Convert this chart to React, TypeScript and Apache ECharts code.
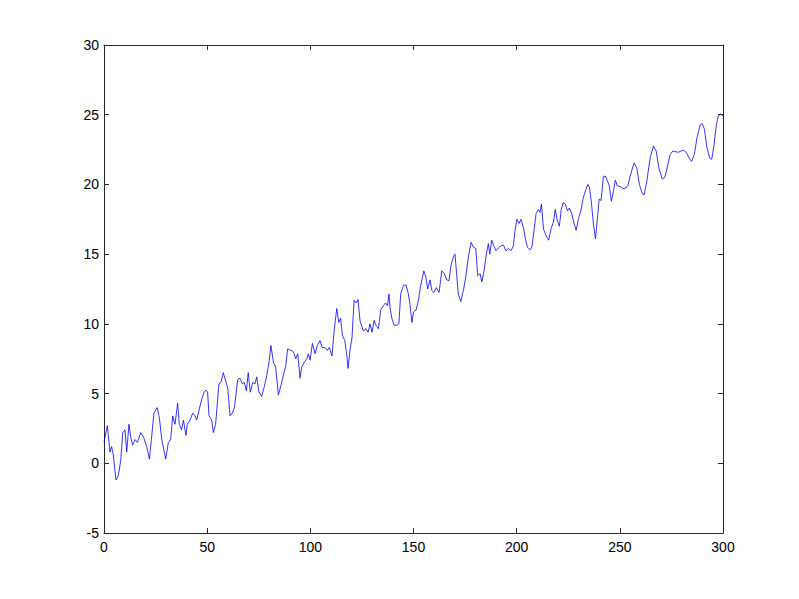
import React, { useEffect, useRef } from "react";
import * as echarts from "echarts";

const xValues = [
  0, 1.6, 2.9, 3.7, 4.5, 5.8, 6.9, 8.1, 9.1, 10.2, 11, 12.1, 12.9, 13.9, 15, 16.2, 17.8, 19.1, 20.7, 22,
  23.1, 24.2, 25.8, 26.8, 28, 29.9, 31.2, 32.3, 33.3, 34.4, 35.7, 36.5, 37.6, 38.5, 39.7, 40.4, 41.7, 43, 44.1, 44.9,
  46.2, 47.4, 48.5, 49.4, 50.2, 50.9, 52.2, 53, 54.1, 55.7, 56.7, 57.8, 59, 60, 61.1, 62.2, 63.2, 64.8, 65.9, 67,
  68, 69, 69.9, 70.9, 72.1, 73.2, 74, 75.1, 76.4, 77.7, 78.9, 80.1, 80.9, 82.1, 83.2, 84.5, 85.8, 86.9, 88.1, 89,
  90.6, 91.8, 92.9, 93.9, 95, 95.8, 97.1, 98.3, 99, 99.9, 101, 102.3, 103.4, 104.7, 105.8, 107.1, 108.2, 109.2, 110.5, 111.6,
  112.8, 113.8, 114.7, 115.5, 116.7, 117.6, 118.3, 119.2, 120.2, 121.2, 122.2, 123.1, 124.1, 125.7, 127, 128, 128.9, 129.9, 130.9, 131.8,
  133, 134.1, 135.4, 136.4, 137.4, 138.1, 138.6, 139.5, 140.6, 141.9, 142.9, 143.8, 145.1, 146.4, 147.5, 148.3, 149.2, 150, 151.3, 152.4,
  153.3, 155, 156, 156.9, 158, 158.9, 159.8, 161.1, 162.4, 163.7, 165, 166.1, 167.2, 168.2, 169.3, 170.1, 170.9, 171.7, 172.9, 174.2,
  175.3, 176.6, 177.9, 179, 180.2, 181.1, 182.3, 183.1, 184.2, 185.3, 186.3, 187, 187.9, 188.9, 190, 191.2, 192.5, 193.6, 194.7, 196,
  197.3, 198.4, 199.2, 200.1, 201.2, 202.1, 203.3, 204.1, 205.2, 206.5, 207.5, 208.4, 209.4, 210.5, 211.3, 212, 213, 214.3, 215.5, 216.8,
  217.8, 218.7, 219.7, 220.7, 221.6, 222.6, 223.6, 224.6, 225.5, 226.5, 227.5, 228.8, 229.9, 231.1, 232.3, 233.6, 234.5, 235.3, 236.3, 237.2,
  238.2, 239.1, 240, 240.9, 242, 243, 244, 244.9, 245.9, 246.9, 247.8, 248.8, 250.1, 251.5, 253, 254, 255, 256.9, 258.2, 259.5,
  260.8, 261.8, 263.1, 264.7, 266.3, 267.6, 268.9, 270.5, 271.8, 273.1, 274.4, 275.7, 277, 278.3, 279.6, 280.9, 282.2, 283.5, 284.8, 286.1,
  287.4, 289, 290, 291, 292.2, 293.5, 294.5, 295.5, 296.8, 297.7, 298.8, 300,
];

const yValues = [
  1.5, 2.7, 0.8, 1.2, 0.6, -1.2, -0.9, 0.2, 2.2, 2.4, 0.8, 2.8, 1.9, 1.3, 1.7, 1.5, 2.2, 1.9, 1.2, 0.3,
  1.9, 3.6, 4.0, 3.3, 1.7, 0.3, 1.5, 1.7, 3.4, 2.8, 4.3, 2.8, 2.4, 3.1, 2.0, 2.8, 3.1, 3.6, 3.4, 3.1,
  3.9, 4.6, 5.1, 5.25, 5.1, 3.4, 3.1, 2.2, 2.8, 5.7, 5.8, 6.5, 5.9, 5.35, 3.4, 3.6, 4.0, 6.0, 6.1, 5.7,
  5.8, 5.2, 6.5, 5.1, 5.8, 5.7, 6.2, 5.1, 4.8, 5.5, 6.3, 7.4, 8.45, 7.25, 6.9, 4.9, 5.6, 6.3, 7.0, 8.2,
  8.1, 8.0, 7.5, 7.85, 6.1, 6.9, 7.25, 7.5, 7.85, 7.4, 8.6, 7.85, 8.45, 8.8, 8.3, 8.3, 8.1, 8.3, 7.7, 9.6,
  11.1, 10.1, 10.4, 9.2, 8.8, 7.85, 6.8, 8.1, 9.0, 11.7, 11.5, 11.75, 10.2, 9.5, 9.65, 9.4, 10.0, 9.4, 10.25, 9.9,
  9.65, 11.0, 11.3, 11.5, 11.3, 12.15, 11.2, 10.4, 9.9, 9.9, 10.0, 12.15, 12.75, 12.8, 12.15, 11.4, 10.1, 10.85, 11.0, 11.7,
  12.6, 13.8, 13.35, 12.5, 13.15, 12.4, 12.25, 12.6, 12.25, 13.8, 13.6, 13.15, 13.1, 14.2, 14.8, 15.0, 13.6, 12.15, 11.6, 12.4,
  13.35, 14.8, 15.85, 15.5, 15.4, 13.45, 13.6, 13.0, 13.8, 15.0, 15.75, 15.0, 16.0, 15.6, 15.25, 15.45, 15.6, 15.65, 15.25, 15.4,
  15.25, 15.6, 16.7, 17.5, 17.2, 17.5, 16.9, 16.2, 15.5, 15.3, 15.6, 16.7, 17.9, 18.2, 18.0, 18.6, 16.8, 16.3, 16.0, 16.9,
  17.3, 18.2, 17.4, 17.0, 18.2, 18.7, 18.6, 18.1, 18.3, 18.0, 17.4, 16.7, 17.5, 18.1, 19.05, 19.65, 20.0, 19.8, 18.6, 17.15,
  16.1, 17.5, 18.95, 18.85, 20.55, 20.6, 20.25, 19.9, 18.8, 19.5, 20.3, 19.9, 19.85, 19.7, 19.75, 19.95, 20.6, 21.55, 21.2, 20.0,
  19.35, 19.25, 20.25, 21.9, 22.75, 22.4, 21.2, 20.4, 20.5, 21.3, 22.15, 22.4, 22.35, 22.3, 22.4, 22.45, 22.3, 21.9, 21.65, 22.15,
  23.35, 24.3, 24.35, 23.95, 22.65, 21.9, 21.8, 22.65, 24.3, 24.9, 25.05, 24.9,
];

const xMin = 0;
const xMax = 300;
const xStep = 50;
const yMin = -5;
const yMax = 30;
const yStep = 5;

const seriesData = xValues.map((x, i) => [x, yValues[i]]);

const axisColor = "#262626";
const labelFont = {
  color: "#000",
  fontFamily: "Liberation Sans, Arial, sans-serif",
  fontSize: 14,
};

export default function App() {
  const ref = useRef<HTMLDivElement>(null);

  useEffect(() => {
    if (!ref.current) return;
    const chart = echarts.init(ref.current, undefined, { renderer: "svg" });
    const baseX = {
      type: "value" as const,
      min: xMin,
      max: xMax,
      interval: xStep,
      splitLine: { show: false },
      axisLine: { show: true, onZero: false, lineStyle: { color: axisColor, width: 1 } },
      axisTick: { show: true, inside: true, length: 5, lineStyle: { color: axisColor } },
    };
    const baseY = {
      type: "value" as const,
      min: yMin,
      max: yMax,
      interval: yStep,
      splitLine: { show: false },
      axisLine: { show: true, onZero: false, lineStyle: { color: axisColor, width: 1 } },
      axisTick: { show: true, inside: true, length: 5, lineStyle: { color: axisColor } },
    };
    chart.setOption({
      animation: false,
      backgroundColor: "#fff",
      grid: { left: 104, right: 76, top: 45, bottom: 66, containLabel: false },
      xAxis: [
        { ...baseX, position: "bottom", axisLabel: { ...labelFont, margin: 7 } },
        { ...baseX, position: "top", axisLabel: { show: false } },
      ],
      yAxis: [
        { ...baseY, position: "left", axisLabel: { ...labelFont, margin: 5 } },
        { ...baseY, position: "right", axisLabel: { show: false } },
      ],
      series: [
        {
          type: "line",
          data: seriesData,
          xAxisIndex: 0,
          yAxisIndex: 0,
          showSymbol: false,
          symbol: "none",
          smooth: false,
          lineStyle: { color: "#0000ff", width: 0.8 },
          itemStyle: { color: "#0000ff" },
        },
      ],
    });
    return () => chart.dispose();
  }, []);

  return (
    <div
      ref={ref}
      style={{ position: "fixed", left: 0, top: 0, width: 799, height: 599, background: "#fff" }}
    />
  );
}
